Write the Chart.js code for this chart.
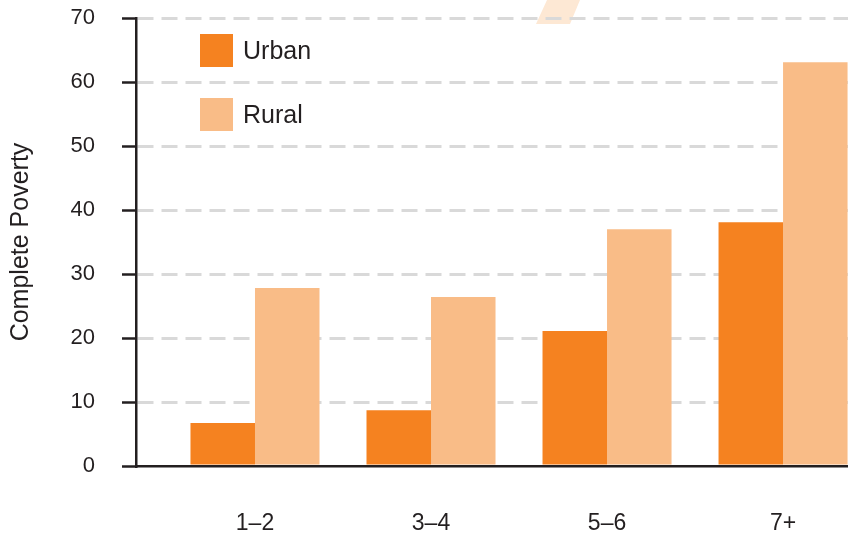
<!DOCTYPE html>
<html>
<head>
<meta charset="utf-8">
<script src="https://cdn.jsdelivr.net/npm/chart.js@4/dist/chart.umd.min.js"></script>
<style>
  html, body { margin: 0; padding: 0; background: #fff; overflow: hidden; }
  #wrap { width: 848px; height: 533px; position: relative; }
</style>
</head>
<body>
<div id="wrap"><canvas id="chart" width="848" height="533"></canvas></div>
<script>
const categories = ["1–2", "3–4", "5–6", "7+"];
const urban = [6.7, 8.7, 21.1, 38.1];
const rural = [27.8, 26.4, 37.0, 63.1];
const yTicks = [0, 10, 20, 30, 40, 50, 60, 70];

const ink = "#231f20";
const font = "'Liberation Sans', Arial, sans-serif";

// faint slanted shape near the top edge, and the two legend boxes
const decorPlugin = {
    id: "decor",
    beforeDraw(chart) {
        const ctx = chart.ctx;
        ctx.save();
        ctx.fillStyle = "#fde8d4";
        ctx.beginPath();
        ctx.moveTo(547, 0);
        ctx.lineTo(580, 0);
        ctx.lineTo(570, 24);
        ctx.lineTo(536, 24);
        ctx.closePath();
        ctx.fill();
        ctx.restore();
    },
    afterDraw(chart) {
        const ctx = chart.ctx;
        ctx.save();
        chart.data.datasets.forEach((ds, i) => {
            const y = 34 + i * 64;
            ctx.fillStyle = ds.backgroundColor;
            ctx.fillRect(200, y, 33, 33);
            ctx.fillStyle = ink;
            ctx.font = "25px " + font;
            ctx.textBaseline = "middle";
            ctx.fillText(ds.label, 243, y + 18);
        });
        ctx.restore();
    }
};

new Chart(document.getElementById("chart"), {
    type: "bar",
    data: {
        datasets: [
            {
                label: "Urban",
                data: urban.map((v, i) => ({ x: i, y: v })),
                backgroundColor: "#f58220"
            },
            {
                label: "Rural",
                data: rural.map((v, i) => ({ x: i, y: v })),
                backgroundColor: "#f9bc87"
            }
        ]
    },
    options: {
        responsive: false,
        animation: false,
        devicePixelRatio: 1,
        categoryPercentage: 0.733,
        barPercentage: 1,
        layout: { padding: { top: 18, right: 0, left: 0, bottom: 0 } },
        plugins: {
            legend: { display: false },
            tooltip: { enabled: false }
        },
        scales: {
            x: {
                type: "linear",
                offset: false,
                min: -0.676,
                max: 3.369,
                z: 1,
                afterBuildTicks: (scale) => {
                    scale.ticks = categories.map((c, i) => ({ value: i }));
                },
                afterFit: (scale) => {
                    scale.height = 67;
                    scale.paddingLeft = 0;
                    scale.paddingRight = 0;
                },
                grid: { display: false, drawTicks: false },
                border: { display: true, color: ink, width: 2.5 },
                ticks: {
                    padding: 44,
                    color: ink,
                    font: { family: font, size: 23 },
                    maxRotation: 0,
                    autoSkip: false,
                    callback: (v) => categories[v] ?? ""
                }
            },
            y: {
                min: 0,
                max: 70,
                afterBuildTicks: (scale) => {
                    scale.ticks = yTicks.map(v => ({ value: v }));
                },
                afterFit: (scale) => {
                    scale.width = 136;
                    scale.paddingTop = 0;
                    scale.paddingBottom = 0;
                },
                grid: {
                    color: (c) => c.tick && c.tick.value === 0 ? "rgba(0,0,0,0)" : "#d9d9d9",
                    lineWidth: 3,
                    tickLength: 14,
                    tickColor: ink,
                    tickWidth: 2.5,
                    tickBorderDash: []
                },
                border: { display: true, color: ink, width: 2.5, dash: [16, 8] },
                ticks: {
                    padding: 27,
                    color: ink,
                    font: { family: font, size: 22 }
                },
                title: {
                    display: true,
                    text: "Complete Poverty",
                    color: ink,
                    font: { family: font, size: 25 },
                    padding: { top: 6, bottom: 0 }
                }
            }
        }
    },
    plugins: [decorPlugin]
});
</script>
</body>
</html>
